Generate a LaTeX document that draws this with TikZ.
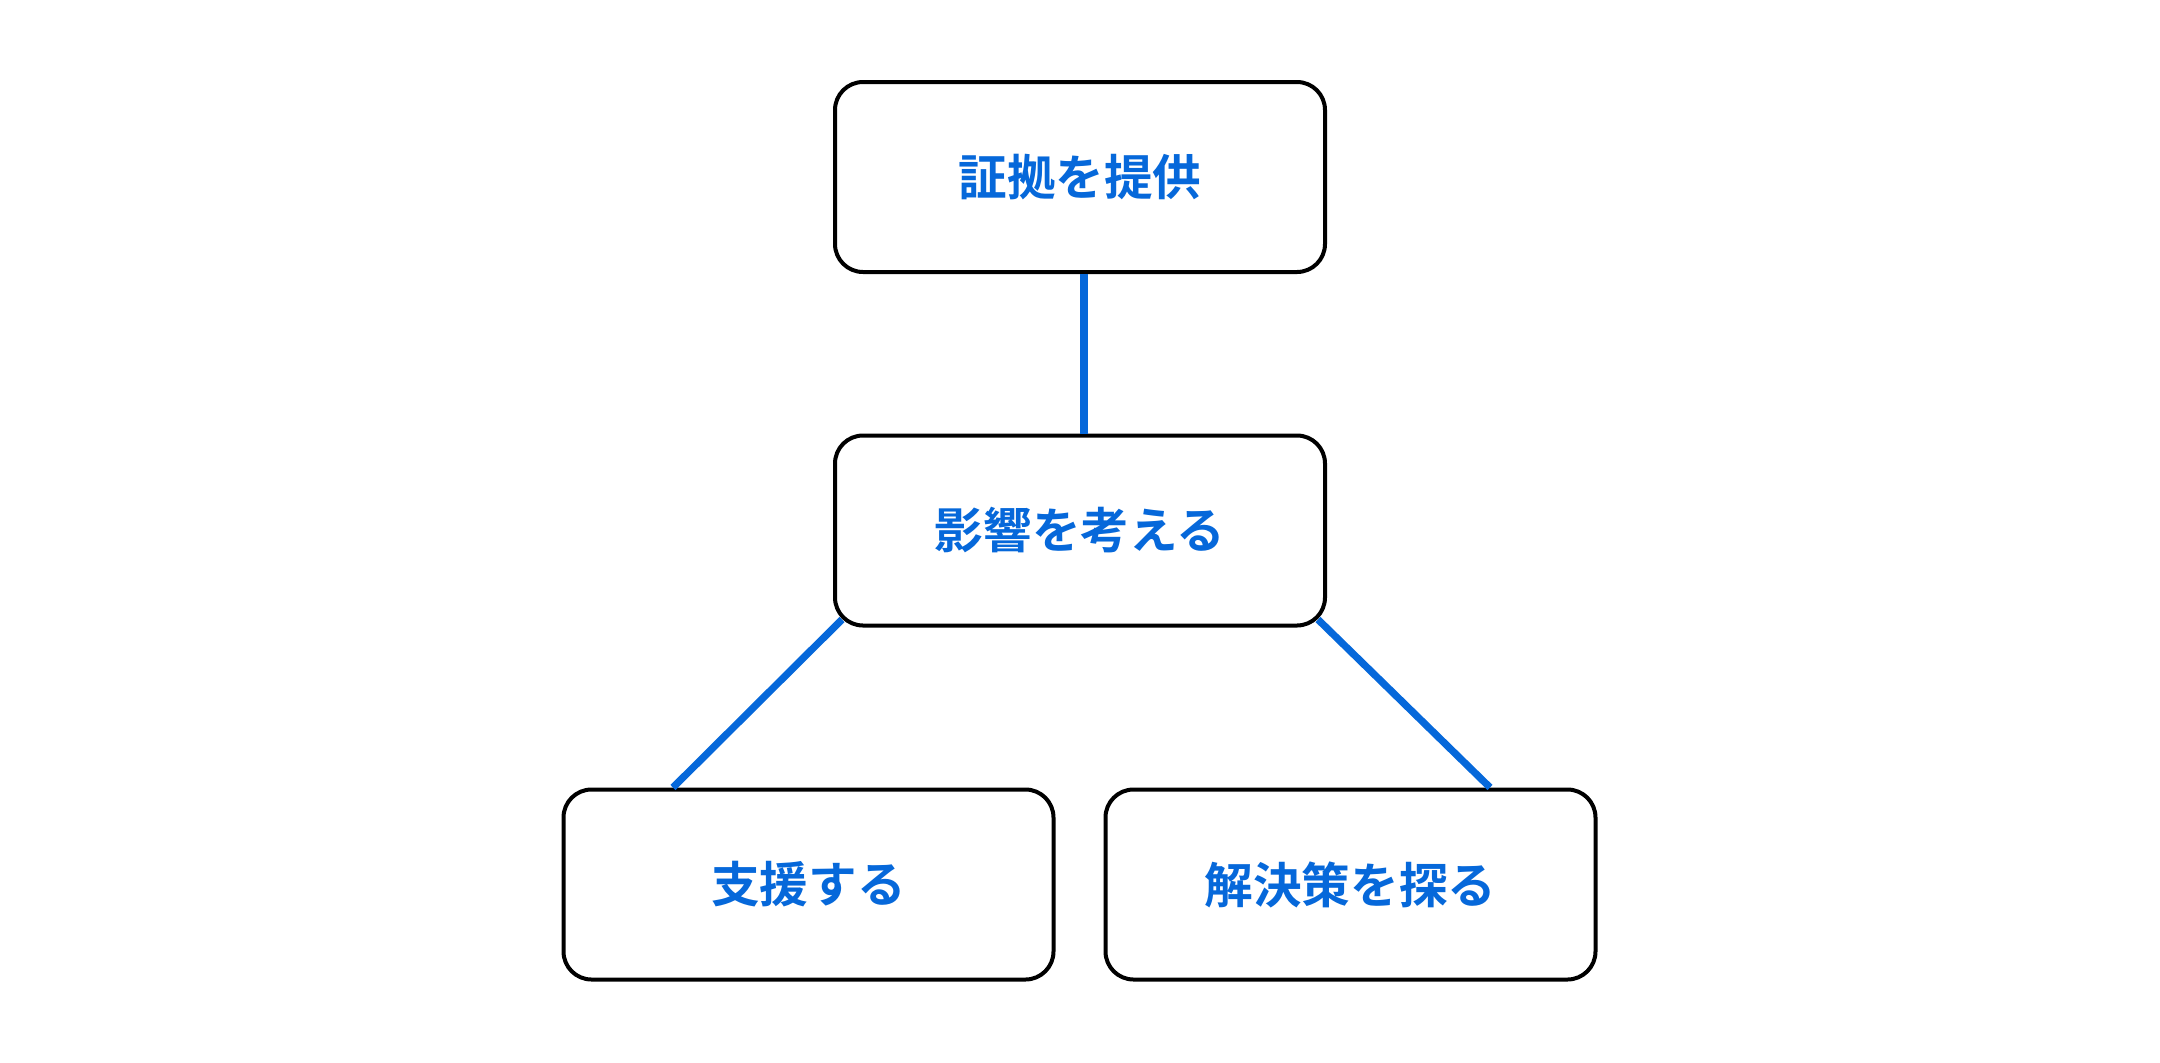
\documentclass[tikz,border=0pt]{standalone}
\usepackage{fontspec}
\newfontfamily\cjk{Noto Sans CJK JP}[BoldFont={Noto Sans CJK JP Bold}]
\definecolor{linkblue}{RGB}{6,104,218}
\tikzset{
  box/.style={draw=black, line width=2pt, rounded corners=14pt, fill=white,
    minimum width=245pt, minimum height=95pt, inner sep=0pt,
    text=linkblue, font=\cjk\bfseries\fontsize{24.3pt}{29pt}\selectfont},
  link/.style={draw=linkblue, line width=3.6pt}
}
\begin{document}
\begin{tikzpicture}[x=0.5pt,y=-0.5pt]
\useasboundingbox (0,0) rectangle (2160,1062);
\node[box] (top) at (1080,177) {証拠を提供};
\node[box] (mid) at (1080,530.5) {影響を考える};
\node[box] (left) at (808.5,884.5) {支援する};
\node[box] (right) at (1350.5,884.5) {解決策を探る};
\draw[link] ([xshift=2pt]top.south) -- ([xshift=2pt]mid.north);
\draw[link] ([xshift=4.5pt,yshift=4pt]mid.south west) -- ([xshift=-67.75pt]left.north);
\draw[link] ([xshift=-4.5pt,yshift=4pt]mid.south east) -- ([xshift=69.75pt]right.north);
\end{tikzpicture}
\end{document}
